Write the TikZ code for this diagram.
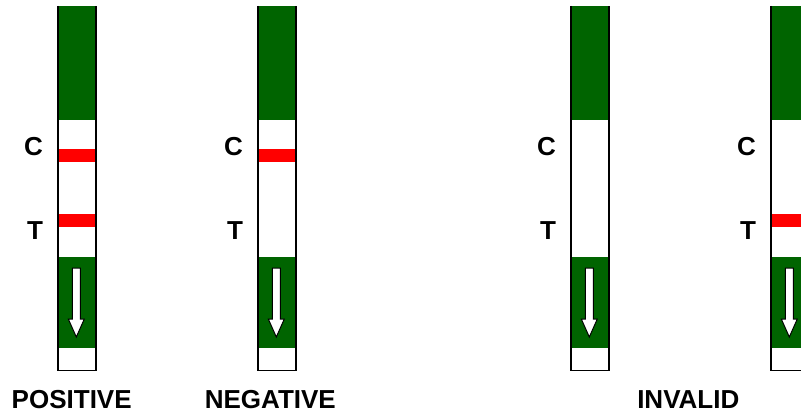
\documentclass[tikz,border=0pt]{standalone}
\usepackage{fontspec}
\setmainfont{Liberation Sans}
\definecolor{stripgreen}{HTML}{006400}
\definecolor{bandred}{HTML}{FF0000}
\tikzset{
  stripborder/.style={draw=black, line width=1.4pt},
  greenpart/.style={fill=stripgreen},
  redband/.style={fill=bandred},
  flowarrow/.style={fill=white, draw=black, line width=1pt, line join=miter},
  letterlabel/.style={font=\bfseries\fontsize{26}{26}\selectfont, inner sep=0pt, anchor=base},
  resultlabel/.style={font=\bfseries\fontsize{26}{26}\selectfont, inner sep=0pt, anchor=base},
}
\newcommand\teststripat[3]{%
  \begin{scope}[xshift=#1pt]
    \fill[white] (0,6) rectangle (38,370.5);
    \fill[greenpart] (0,6) rectangle (38,120);
    \fill[greenpart] (0,257) rectangle (38,347.5);
    \ifnum#2=1 \fill[redband] (0,149) rectangle (38,161.5);\fi
    \ifnum#3=1 \fill[redband] (0,214) rectangle (38,226.5);\fi
    \draw[flowarrow] (14.3,268) -- (22.3,268) -- (22.3,319) -- (26.3,319) -- (18.3,337) -- (10.3,319) -- (14.3,319) -- cycle;
    \draw[stripborder] (0,6) -- (0,370.5) -- (38,370.5) -- (38,6);
  \end{scope}}
\begin{document}
\begin{tikzpicture}[x=1pt, y=-1pt]
  \useasboundingbox (0,0) rectangle (801,412);
  \clip (0,0) rectangle (801,412);
  \teststripat{58}{1}{1}
  \teststripat{258}{1}{0}
  \teststripat{571}{0}{0}
  \teststripat{771}{0}{1}
  \node[letterlabel] (c1) at (33.5,155) {C};
  \node[letterlabel] (t1) at (35,239) {T};
  \node[letterlabel] (c2) at (233.5,155) {C};
  \node[letterlabel] (t2) at (235,239) {T};
  \node[letterlabel] (c3) at (546.5,155) {C};
  \node[letterlabel] (t3) at (548,239) {T};
  \node[letterlabel] (c4) at (746.5,155) {C};
  \node[letterlabel] (t4) at (748,239) {T};
  \node[resultlabel] (pos) at (71.7,408) {POSITIVE};
  \node[resultlabel] (neg) at (270.3,408) {NEGATIVE};
  \node[resultlabel] (inv) at (688.3,408) {INVALID};
\end{tikzpicture}
\end{document}
